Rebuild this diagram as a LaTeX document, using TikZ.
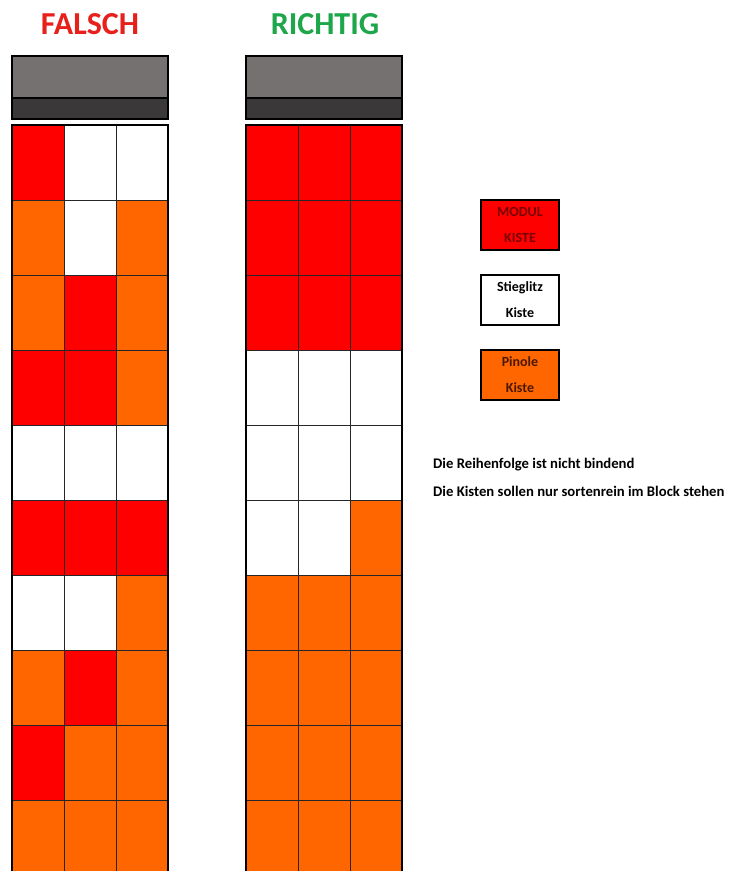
\documentclass[tikz,border=0pt]{standalone}
\usepackage{fontspec}
\setmainfont{Carlito}
\definecolor{cR}{HTML}{FF0000}
\definecolor{cO}{HTML}{FF6600}
\definecolor{cW}{HTML}{FFFFFF}
\definecolor{kgrey}{HTML}{767171}
\definecolor{kdark}{HTML}{3A3838}
\definecolor{tred}{HTML}{E8201C}
\definecolor{tgreen}{HTML}{1EA64A}
\definecolor{lred}{HTML}{7A0000}
\definecolor{lbrown}{HTML}{4A1800}
\tikzset{
  cellline/.style={draw=black!85, line width=0.9pt},
  outline/.style={draw=black, line width=2.4pt},
  title/.style={font=\bfseries\fontsize{32}{32}\selectfont, inner sep=0pt},
  legendbox/.style={draw=black, line width=2pt, minimum width=78pt, minimum height=50pt,
    align=center, inner sep=0pt, font=\bfseries\fontsize{14}{26}\selectfont},
  note/.style={anchor=west, inner sep=0pt, font=\bfseries\fontsize{14.7}{16}\selectfont},
}
\begin{document}
\begin{tikzpicture}[x=1pt,y=-1pt]
\useasboundingbox[fill=white] (0,0) rectangle (731,871);
\clip (0,0) rectangle (731,871);
% titles
\node[title, text=tred] (t1) at (90,24) {FALSCH};
\node[title, text=tgreen] (t2) at (325,24) {RICHTIG};
% headers
\foreach \x in {12,246} {
  \fill[kgrey] (\x,56) rectangle ++(156,42);
  \fill[kdark] (\x,98) rectangle ++(156,21);
  \draw[black, line width=1.6pt] (\x,98) -- ++(156,0);
  \draw[outline] (\x,56) rectangle ++(156,63);
}
% left (FALSCH) grid
\foreach \row [count=\i from 0] in {{R,W,W},{O,W,O},{O,R,O},{R,R,O},{W,W,W},{R,R,R},{W,W,O},{O,R,O},{R,O,O},{O,O,O}} {
  \foreach \c [count=\j from 0] in \row {
    \filldraw[cellline, fill=c\c] (12+52*\j,125+75*\i) rectangle ++(52,75);
  }
}
% right (RICHTIG) grid
\foreach \row [count=\i from 0] in {{R,R,R},{R,R,R},{R,R,R},{W,W,W},{W,W,W},{W,W,O},{O,O,O},{O,O,O},{O,O,O},{O,O,O}} {
  \foreach \c [count=\j from 0] in \row {
    \filldraw[cellline, fill=c\c] (246+52*\j,125+75*\i) rectangle ++(52,75);
  }
}
% outer borders
\foreach \x in {12,246} {
  \draw[outline] (\x,880) -- (\x,125) -- ++(156,0) -- ++(0,755);
}
% legend
\node[legendbox, fill=cR, text=lred] (l1) at (520,225) {MODUL\\KISTE};
\node[legendbox, fill=white, text=black] (l2) at (520,300) {Stieglitz\\Kiste};
\node[legendbox, fill=cO, text=lbrown] (l3) at (520,375) {Pinole\\Kiste};
% notes
\node[note] (n1) at (433,465) {Die Reihenfolge ist nicht bindend};
\node[note] (n2) at (433,491) {Die Kisten sollen nur sortenrein im Block stehen};
\end{tikzpicture}
\end{document}
